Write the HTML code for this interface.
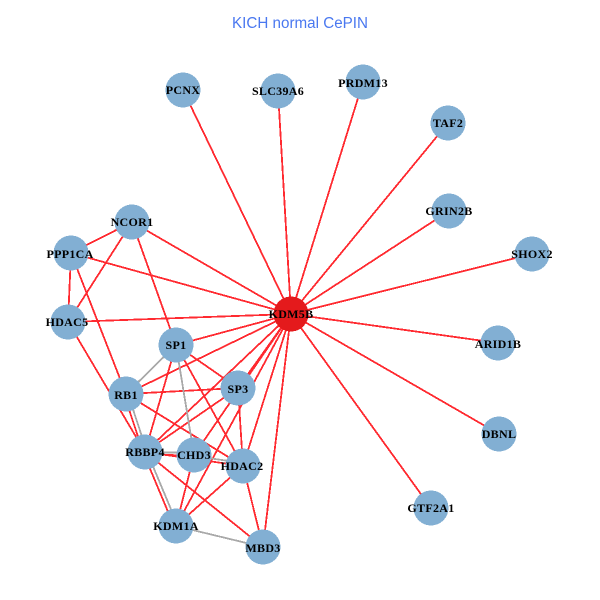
<!DOCTYPE html>
<html>
<head>
<meta charset="utf-8">
<style>
html,body{margin:0;padding:0;background:#fff;width:600px;height:600px;overflow:hidden}
svg{display:block}
.n text{font-family:"Liberation Serif",serif;font-weight:bold;font-size:12px;text-anchor:middle;fill:#000;letter-spacing:.3px}
.r line{stroke:#ff2a30;stroke-width:1.8}
.g line{stroke:#a9a9a9;stroke-width:1.8}
</style>
</head>
<body>
<svg width="600" height="600" viewBox="0 0 600 600" xmlns="http://www.w3.org/2000/svg">
<rect width="600" height="600" fill="#fff"/>
<text x="300" y="28" font-family="'Liberation Sans',sans-serif" font-size="15.5" fill="#4a78f0" text-anchor="middle" textLength="136" lengthAdjust="spacingAndGlyphs">KICH normal CePIN</text>
<g class="r" shape-rendering="crispEdges">
<line x1="291" y1="314" x2="183" y2="90"/>
<line x1="291" y1="314" x2="278" y2="91"/>
<line x1="291" y1="314" x2="363" y2="82"/>
<line x1="291" y1="314" x2="448" y2="123"/>
<line x1="291" y1="314" x2="449" y2="211"/>
<line x1="291" y1="314" x2="532" y2="254"/>
<line x1="291" y1="314" x2="498" y2="343"/>
<line x1="291" y1="314" x2="499" y2="434"/>
<line x1="291" y1="314" x2="431" y2="508"/>
<line x1="291" y1="314" x2="132" y2="222"/>
<line x1="291" y1="314" x2="71" y2="253"/>
<line x1="291" y1="314" x2="68" y2="322"/>
<line x1="291" y1="314" x2="176" y2="345"/>
<line x1="291" y1="314" x2="126" y2="394"/>
<line x1="291" y1="314" x2="238" y2="388"/>
<line x1="291" y1="314" x2="145" y2="452"/>
<line x1="291" y1="314" x2="194" y2="455"/>
<line x1="291" y1="314" x2="243" y2="466"/>
<line x1="291" y1="314" x2="176" y2="526"/>
<line x1="291" y1="314" x2="263" y2="547"/>
<line x1="132" y1="222" x2="71" y2="253"/>
<line x1="132" y1="222" x2="68" y2="322"/>
<line x1="132" y1="222" x2="176" y2="345"/>
<line x1="71" y1="253" x2="68" y2="322"/>
<line x1="71" y1="253" x2="126" y2="394"/>
<line x1="68" y1="322" x2="145" y2="452"/>
<line x1="176" y1="345" x2="238" y2="388"/>
<line x1="176" y1="345" x2="145" y2="452"/>
<line x1="176" y1="345" x2="243" y2="466"/>
<line x1="126" y1="394" x2="238" y2="388"/>
<line x1="124" y1="394" x2="143" y2="452"/>
<line x1="126" y1="394" x2="243" y2="466"/>
<line x1="238" y1="388" x2="145" y2="452"/>
<line x1="238" y1="388" x2="243" y2="466"/>
<line x1="145" y1="454" x2="194" y2="456"/>
<line x1="145" y1="452" x2="243" y2="466"/>
<line x1="143" y1="452" x2="174" y2="526"/>
<line x1="145" y1="452" x2="263" y2="547"/>
<line x1="194" y1="455" x2="176" y2="526"/>
<line x1="243" y1="466" x2="176" y2="526"/>
<line x1="243" y1="466" x2="263" y2="547"/>
</g>
<g class="g" shape-rendering="crispEdges">
<line x1="176" y1="345" x2="126" y2="394"/>
<line x1="176" y1="345" x2="194" y2="455"/>
<line x1="128" y1="394" x2="147" y2="452"/>
<line x1="145" y1="452" x2="194" y2="453"/>
<line x1="194" y1="456" x2="243" y2="463"/>
<line x1="147" y1="452" x2="178" y2="526"/>
<line x1="176" y1="526" x2="263" y2="547"/>
</g>
<g class="n">
<g fill="#82afd3" shape-rendering="crispEdges">
<circle cx="183" cy="90" r="17.5"/>
<circle cx="278" cy="91" r="17.5"/>
<circle cx="363" cy="82" r="17.5"/>
<circle cx="448" cy="123" r="17.5"/>
<circle cx="449" cy="211" r="17.5"/>
<circle cx="532" cy="254" r="17.5"/>
<circle cx="498" cy="343" r="17.5"/>
<circle cx="499" cy="434" r="17.5"/>
<circle cx="431" cy="508" r="17.5"/>
<circle cx="132" cy="222" r="17.5"/>
<circle cx="71" cy="253" r="17.5"/>
<circle cx="68" cy="322" r="17.5"/>
<circle cx="176" cy="345" r="17.5"/>
<circle cx="126" cy="394" r="17.5"/>
<circle cx="238" cy="388" r="17.5"/>
<circle cx="145" cy="452" r="17.5"/>
<circle cx="194" cy="455" r="17.5"/>
<circle cx="243" cy="466" r="17.5"/>
<circle cx="176" cy="526" r="17.5"/>
<circle cx="263" cy="547" r="17.5"/>
<circle cx="291" cy="314" r="17.5" fill="#e41a1c"/>
</g>
<text x="183" y="94">PCNX</text>
<text x="278" y="95">SLC39A6</text>
<text x="363" y="87">PRDM13</text>
<text x="448" y="127">TAF2</text>
<text x="449" y="215">GRIN2B</text>
<text x="532" y="258">SHOX2</text>
<text x="498" y="348">ARID1B</text>
<text x="499" y="438">DBNL</text>
<text x="431" y="512">GTF2A1</text>
<text x="132" y="226">NCOR1</text>
<text x="70" y="258">PPP1CA</text>
<text x="67" y="326">HDAC5</text>
<text x="176" y="349">SP1</text>
<text x="126" y="399">RB1</text>
<text x="238" y="393">SP3</text>
<text x="145" y="456">RBBP4</text>
<text x="194" y="459">CHD3</text>
<text x="242" y="470">HDAC2</text>
<text x="176" y="530">KDM1A</text>
<text x="263" y="552">MBD3</text>
<text x="291" y="318">KDM5B</text>
</g>
</svg>
</body>
</html>
